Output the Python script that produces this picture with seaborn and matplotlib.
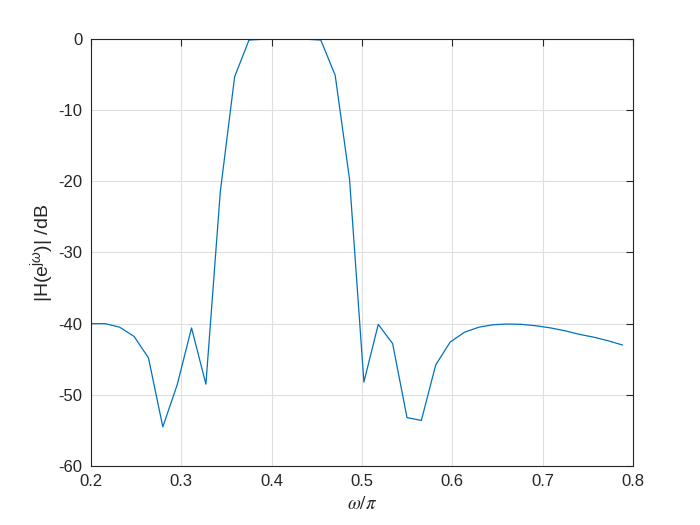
import numpy as np
import pandas as pd
import matplotlib
matplotlib.use("Agg")
import matplotlib.pyplot as plt
import seaborn as sns

# normalized frequency (omega/pi)
omega = [0.2000, 0.2159, 0.2318, 0.2477, 0.2636, 0.2795, 0.2954, 0.3113,
         0.3272, 0.3431, 0.3590, 0.3749, 0.3908, 0.4067, 0.4226, 0.4385,
         0.4544, 0.4703, 0.4862, 0.5021, 0.5180, 0.5339, 0.5498, 0.5657,
         0.5816, 0.5975, 0.6134, 0.6293, 0.6452, 0.6611, 0.6770, 0.6929,
         0.7088, 0.7247, 0.7406, 0.7565, 0.7724, 0.7883]
# magnitude response in dB
mag_db = [-40.0, -40.0, -40.5, -41.8, -44.8, -54.5, -48.6, -40.6,
          -48.5, -21.5, -5.3, -0.15, -0.03, -0.02, -0.02, -0.03,
          -0.15, -5.1, -19.7, -48.2, -40.1, -42.8, -53.2, -53.6,
          -45.8, -42.6, -41.2, -40.5, -40.15, -40.05, -40.1, -40.3,
          -40.6, -41.0, -41.5, -41.9, -42.4, -43.0]

xticks = [0.2, 0.3, 0.4, 0.5, 0.6, 0.7, 0.8]
yticks = [0, -10, -20, -30, -40, -50, -60]

sns.set_style("white")
plt.rcParams['font.family'] = ['Liberation Sans', 'DejaVu Sans']
plt.rcParams['mathtext.fontset'] = 'custom'
plt.rcParams['mathtext.rm'] = 'Liberation Sans'
plt.rcParams['mathtext.it'] = 'Liberation Sans:italic'

df = pd.DataFrame({"omega": omega, "mag": mag_db})

fig = plt.figure(figsize=(7, 5.25), dpi=100)
ax = fig.add_axes([0.13, 0.1124, 0.7743, 0.8133])
sns.lineplot(data=df, x="omega", y="mag", ax=ax, color="#0072BD",
             linewidth=0.9, estimator=None, sort=False)

ax.set_xlim(0.2, 0.8)
ax.set_ylim(-60, 0)
ax.set_xticks(xticks)
ax.set_yticks(yticks)
ax.set_xticklabels([f"{t:g}" for t in xticks])
ax.set_yticklabels([f"{t:g}" for t in yticks])

ax.grid(True, color="#dfdfdf", linewidth=0.8)
ax.set_axisbelow(True)
for s in ax.spines.values():
    s.set_color("#262626")
    s.set_linewidth(0.8)
    s.set_visible(True)
ax.tick_params(direction="in", length=5, width=0.8, color="#262626",
               labelcolor="#262626", labelsize=12, top=True, right=True,
               pad=6)

ax.set_xlabel(r"$\omega/\pi$", fontsize=13.5, color="#262626",
              math_fontfamily="stix", labelpad=5)
ax.set_ylabel(r"|H(e$^{\mathrm{j}\omega}$)| /dB", fontsize=14,
              color="#262626", labelpad=2)

fig.savefig("out.png", dpi=100, facecolor="white")
